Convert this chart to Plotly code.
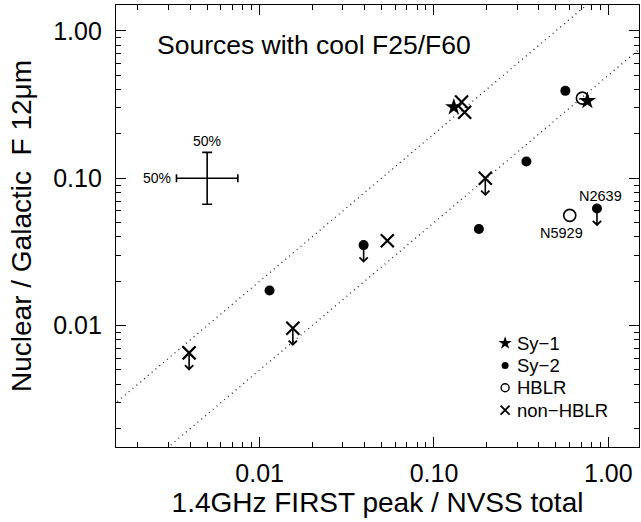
import numpy as np
import plotly.graph_objects as go

# --- data: x = 1.4GHz FIRST peak / NVSS total, y = nuclear / galactic F12um ---
sy1_x = [0.130, 0.758]
sy1_y = [0.304, 0.335]
sy1_lim = [False, False]

sy2_x = [0.567, 0.339, 0.181, 0.861, 0.0395, 0.0114]
sy2_y = [0.392, 0.130, 0.0453, 0.0624, 0.0352, 0.0173]
sy2_lim = [False, False, False, True, True, False]

hblr_x = [0.71, 0.601]
hblr_y = [0.35, 0.056]
hblr_lim = [False, False]

nonhblr_x = [0.144, 0.150, 0.197, 0.054, 0.0155, 0.00394]
nonhblr_y = [0.329, 0.281, 0.100, 0.0377, 0.0096, 0.00653]
nonhblr_lim = [False, False, True, False, True, True]

# named objects
names = ["N2639", "N5929"]
names_x = [0.861, 0.601]
names_y = [0.0624, 0.056]

# reference ratio lines y = k * x
ratios = [2.0, 0.5]

# typical +/-50% uncertainty cross
err_x, err_y, err_fac = 0.005, 0.10, 1.5

x_range = [0.0015, 1.5]
y_range = [0.0015, 1.5]
tick_vals = [0.01, 0.1, 1.0]
tick_text = ["0.01", "0.10", "1.00"]

legend_labels = ["Sy\u22121", "Sy\u22122", "HBLR", "non\u2212HBLR"]

FONT = "Liberation Sans, Arial, Helvetica, sans-serif"
BLACK = "black"

fig = go.Figure()

# dotted ratio lines
lx = np.array([x_range[0] / 10, x_range[1] * 10])
for k in ratios:
    fig.add_trace(go.Scatter(x=lx, y=k * lx, mode="lines", showlegend=False,
                             hoverinfo="skip",
                             line=dict(color="#222", width=1.3, dash="1px,4px")))

styles = [
    dict(symbol="star", size=13, color=BLACK),
    dict(symbol="circle", size=10, color=BLACK),
    dict(symbol="circle-open", size=12, color=BLACK, line=dict(width=1.6)),
    dict(symbol="x-thin-open", size=13, color=BLACK, line=dict(width=2.2)),
]
key_styles = [
    dict(symbol="star", size=10, color=BLACK),
    dict(symbol="circle", size=7, color=BLACK),
    dict(symbol="circle-open", size=8, color=BLACK, line=dict(width=1.4)),
    dict(symbol="x-thin-open", size=9, color=BLACK, line=dict(width=1.8)),
]
series = [
    (sy1_x, sy1_y, sy1_lim),
    (sy2_x, sy2_y, sy2_lim),
    (hblr_x, hblr_y, hblr_lim),
    (nonhblr_x, nonhblr_y, nonhblr_lim),
]

annotations = []
for (xs, ys, lims), mk, name in zip(series, styles, legend_labels):
    fig.add_trace(go.Scatter(x=xs, y=ys, mode="markers", name=name, marker=mk,
                             showlegend=False))
    # upper limits: downward arrows
    for xv, yv, lim in zip(xs, ys, lims):
        if lim:
            annotations.append(dict(
                x=np.log10(xv), y=np.log10(yv / 1.32), ax=np.log10(xv), ay=np.log10(yv),
                xref="x", yref="y", axref="x", ayref="y", showarrow=True,
                arrowhead=4, arrowsize=1.0, arrowwidth=1.6, arrowcolor=BLACK,
                standoff=0, startstandoff=0, text=""))

# uncertainty cross
fig.add_trace(go.Scatter(
    x=[err_x], y=[err_y], mode="markers", showlegend=False, hoverinfo="skip",
    marker=dict(size=1, color=BLACK),
    error_x=dict(type="data", symmetric=False, array=[err_x * err_fac - err_x],
                 arrayminus=[err_x - err_x / err_fac], color=BLACK, thickness=1.6, width=4),
    error_y=dict(type="data", symmetric=False, array=[err_y * err_fac - err_y],
                 arrayminus=[err_y - err_y / err_fac], color=BLACK, thickness=1.6, width=5),
))
annotations.append(dict(x=np.log10(err_x), y=np.log10(err_y * err_fac), xref="x", yref="y",
                        text="50%", showarrow=False, yanchor="bottom", yshift=1,
                        font=dict(size=14, family=FONT, color=BLACK)))
annotations.append(dict(x=np.log10(err_x / err_fac), y=np.log10(err_y), xref="x", yref="y",
                        text="50%", showarrow=False, xanchor="right", xshift=-3,
                        font=dict(size=14, family=FONT, color=BLACK)))

# object labels
annotations.append(dict(x=np.log10(names_x[0]), y=np.log10(names_y[0]), xref="x", yref="y",
                        text=names[0], showarrow=False, xshift=4, yshift=12,
                        font=dict(size=14.5, family=FONT, color=BLACK)))
annotations.append(dict(x=np.log10(names_x[1]), y=np.log10(names_y[1]), xref="x", yref="y",
                        text=names[1], showarrow=False, xshift=-8, yshift=-18,
                        font=dict(size=14.5, family=FONT, color=BLACK)))

# panel title
annotations.append(dict(x=0.075, y=0.91, xref="paper", yref="paper", xanchor="left",
                        yanchor="middle", text="Sources with cool F25/F60", showarrow=False,
                        font=dict(size=26.5, family=FONT, color=BLACK)))

# key in the lower right corner, drawn on a unit overlay axis
key_x = 0.744
key_top = 0.235
key_step = 0.0505
for i, (lab, mk) in enumerate(zip(legend_labels, key_styles)):
    ky = key_top - i * key_step
    fig.add_trace(go.Scatter(x=[key_x], y=[ky], xaxis="x2", yaxis="y2", mode="markers",
                             marker=mk, showlegend=False, hoverinfo="skip"))
    annotations.append(dict(x=key_x, y=ky, xref="x2", yref="y2", xanchor="left",
                            xshift=10, text=lab, showarrow=False,
                            font=dict(size=18.5, family=FONT, color=BLACK)))

axis_common = dict(
    type="log", showgrid=False, zeroline=False, showline=True, linecolor=BLACK,
    linewidth=1.2, mirror="allticks", ticks="inside", ticklen=10, tickwidth=1.2,
    tickcolor=BLACK, tickvals=tick_vals, ticktext=tick_text,
    tickfont=dict(size=25, family=FONT, color=BLACK),
    minor=dict(ticks="inside", ticklen=5, tickwidth=1, tickcolor=BLACK,
               dtick="D1", showgrid=False),
)

fig.update_layout(
    width=641, height=522,
    margin=dict(l=116, r=2, t=5, b=75),
    paper_bgcolor="white", plot_bgcolor="white",
    font=dict(family=FONT, color=BLACK),
    showlegend=False,
    xaxis=dict(axis_common, range=[np.log10(x_range[0]), np.log10(x_range[1])],
               ticklabelstandoff=4,
               title=dict(text="1.4GHz FIRST peak / NVSS total",
                          font=dict(size=28, family=FONT), standoff=2)),
    yaxis=dict(axis_common, range=[np.log10(y_range[0]), np.log10(y_range[1])],
               ticklabelstandoff=8,
               title=dict(text="Nuclear / Galactic \u00a0F 12\u03bcm",
                          font=dict(size=28, family=FONT), standoff=13)),
    xaxis2=dict(overlaying="x", range=[0, 1], visible=False, fixedrange=True),
    yaxis2=dict(overlaying="y", range=[0, 1], visible=False, fixedrange=True),
    annotations=annotations,
)

fig.write_html("out.html")
